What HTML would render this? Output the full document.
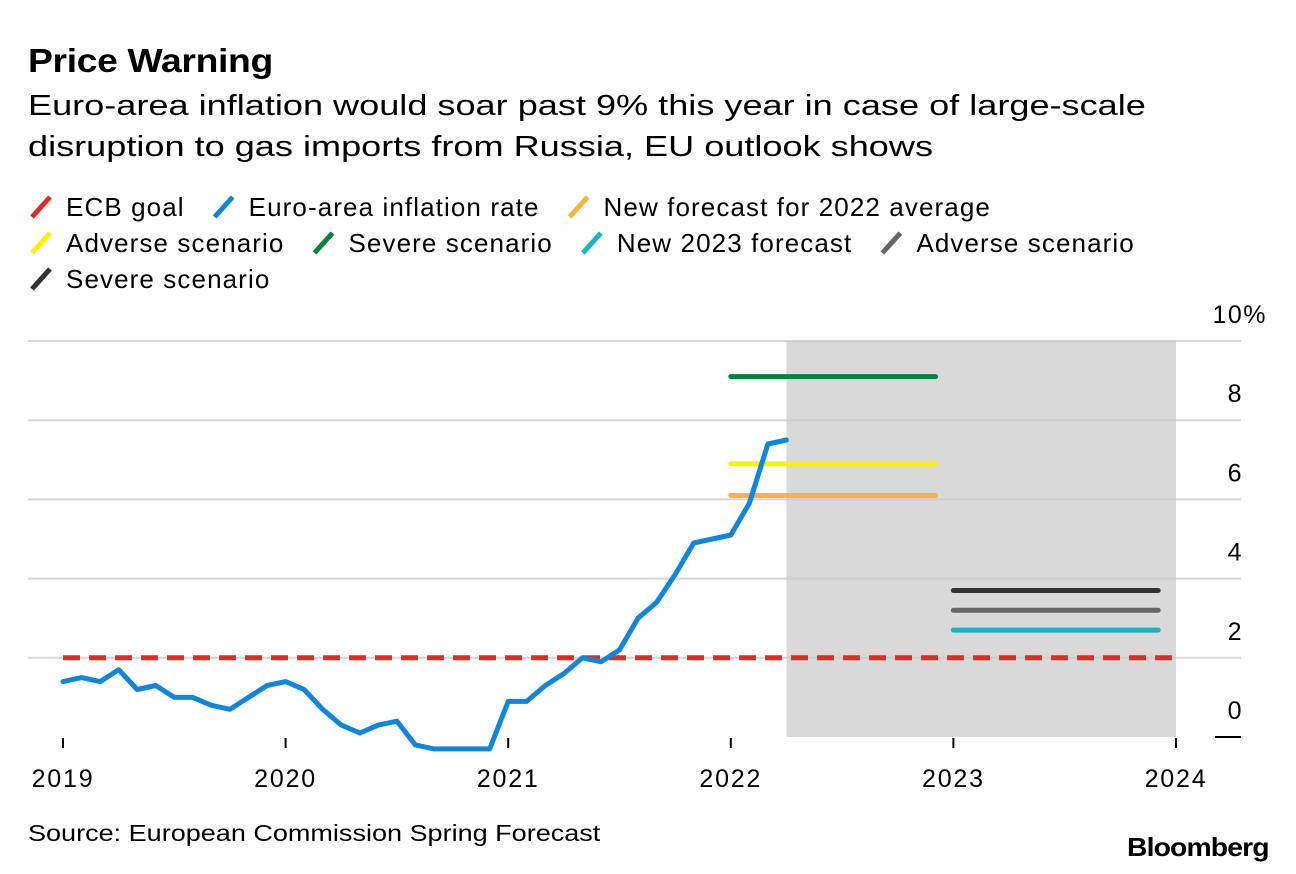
<!DOCTYPE html>
<html><head><meta charset="utf-8"><style>
body{margin:0;background:#fff;font-family:"Liberation Sans",Arial,sans-serif;}
#wrap{position:relative;width:1296px;height:874px;overflow:hidden}
.t{position:absolute;color:#000;white-space:nowrap;transform-origin:0 0}
</style></head><body>
<div id="wrap">
<div class="t" style="left:28px;top:42px;font-size:33px;font-weight:bold;letter-spacing:-0.3px;transform:scaleX(1.13)">Price Warning</div>
<div class="t" style="left:28px;top:86px;font-size:29px;line-height:41px;transform:scaleX(1.245)">Euro-area inflation would soar past 9% this year in case of large-scale<br>disruption to gas imports from Russia, EU outlook shows</div>
<svg id="svg" width="1296" height="874" style="position:absolute;left:0;top:0"></svg>
<div class="t" style="left:28px;top:820px;font-size:23px;transform:scaleX(1.175)">Source: European Commission Spring Forecast</div>
<div class="t" style="left:1127px;top:832px;font-size:26px;font-weight:bold;letter-spacing:-0.8px;transform:scaleX(1.09)">Bloomberg</div>
</div>
<script>
const blueValues=[1.4,1.5,1.4,1.7,1.2,1.3,1.0,1.0,0.8,0.7,1.0,1.3,
1.4,1.2,0.7,0.3,0.1,0.3,0.4,-0.2,-0.3,-0.3,-0.3,-0.3,
0.9,0.9,1.3,1.6,2.0,1.9,2.2,3.0,3.4,4.1,4.9,5.0,
5.1,5.9,7.4,7.5];
const blueStart=2019;
const ecbGoal=2.0;
const forecast2022=[6.1,6.9,9.1];
const forecast2023=[2.7,3.2,3.7];
const yTicks=[0,2,4,6,8,10];
const xTicks=[2019,2020,2021,2022,2023,2024];
const shadeStart=2022.25, shadeEnd=2024;
const legend=[
 ["ECB goal","#e02b26"],["Euro-area inflation rate","#0e86dc"],["New forecast for 2022 average","#fbb43c"],
 ["Adverse scenario","#fff200"],["Severe scenario","#00843d"],["New 2023 forecast","#19b3c7"],["Adverse scenario","#666666"],
 ["Severe scenario","#333333"]];
const legendRows=[[0,1,2],[3,4,5,6],[7]];

const svg=document.getElementById('svg');
const NS='http://www.w3.org/2000/svg';
const X=v=>63+(v-2019)*222.6;
const Y=v=>737-v*39.6;
function el(tag,attrs){const e=document.createElementNS(NS,tag);for(const k in attrs)e.setAttribute(k,attrs[k]);svg.appendChild(e);return e;}

// legend
let ly=207;
legendRows.forEach((row,ri)=>{
  let lx=30;
  row.forEach(i=>{
    const [label,col]=legend[i];
    const ic=el('line',{x1:lx+2,y1:ly+10,x2:lx+20,y2:ly-10,stroke:col,'stroke-width':5});
    
    
    const t=el('text',{x:lx+36,y:ly+9,'font-size':26,'letter-spacing':1.1,fill:'#000','font-family':'Liberation Sans, Arial, sans-serif'});
    t.textContent=label;
    
    
    const w=t.getComputedTextLength();
    lx+=36+w+28;
  });
  ly+=36;
});

// shade
const sh=el('rect',{x:X(shadeStart),y:Y(10),width:X(shadeEnd)-X(shadeStart),height:Y(0)-Y(10),fill:'#d9d9d9'});



// grid & y labels
yTicks.forEach(v=>{
  if(v>0){const g=el('line',{x1:28,x2:1241,y1:Y(v),y2:Y(v),stroke:'#cccccc','stroke-width':2,opacity:0.8});
  
  }
  const t=el('text',{x:v==10?1267:1243,y:Y(v)-18,'font-size':25,'letter-spacing':1.5,'text-anchor':'end',fill:'#000','font-family':'Liberation Sans, Arial, sans-serif'});
  t.textContent=v==10?'10%':String(v);
  
  
});
const z=el('line',{x1:1215,x2:1241,y1:Y(0),y2:Y(0),stroke:'#000','stroke-width':2});



// x ticks
xTicks.forEach(v=>{
  const l=el('line',{x1:X(v),x2:X(v),y1:738,y2:748,stroke:'#000','stroke-width':2});
  
  
  const t=el('text',{x:X(v),y:787,'font-size':25,'letter-spacing':1.8,'text-anchor':'middle',fill:'#000','font-family':'Liberation Sans, Arial, sans-serif'});
  t.textContent=String(v);
  
  
});

// forecast segments
const cols22=['#fbb43c','#fff200','#00843d'];
forecast2022.forEach((v,i)=>{
  const s=el('line',{x1:X(2022),x2:X(2022.92),y1:Y(v),y2:Y(v),stroke:cols22[i],'stroke-width':5,'stroke-linecap':'round'});
  
  
});
const cols23=['#19b3c7','#666666','#333333'];
forecast2023.forEach((v,i)=>{
  const s=el('line',{x1:X(2023),x2:X(2023.92),y1:Y(v),y2:Y(v),stroke:cols23[i],'stroke-width':5,'stroke-linecap':'round'});
  
  
});

// ECB goal
const ecb=el('line',{x1:X(2019),x2:X(2024),y1:Y(ecbGoal),y2:Y(ecbGoal),stroke:'#e02b26','stroke-width':5,'stroke-dasharray':'17 9'});



// blue line
const pts=blueValues.map((v,i)=>X(blueStart+i/12).toFixed(1)+','+Y(v).toFixed(1)).join(' ');
const bl=el('polyline',{points:pts,fill:'none',stroke:'#0e86dc','stroke-width':5,'stroke-linejoin':'round','stroke-linecap':'round'});


</script>
</body></html>
